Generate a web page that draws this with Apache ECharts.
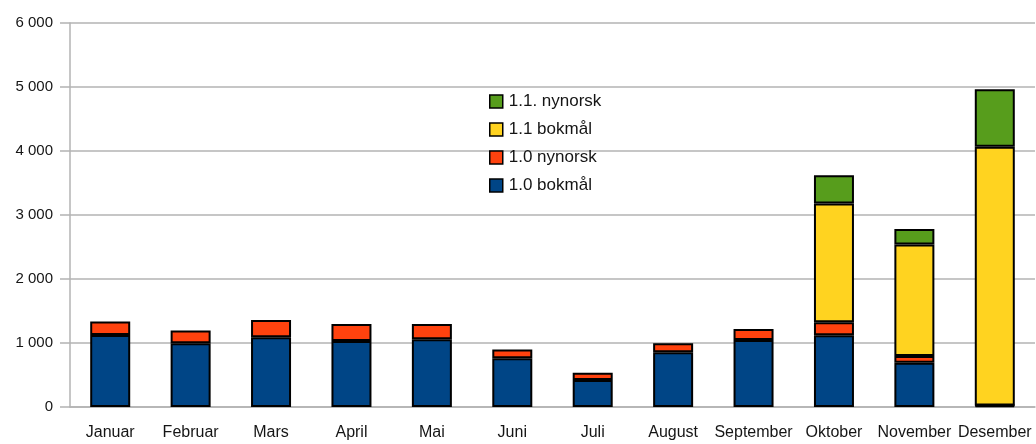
<!DOCTYPE html>
<html>
<head>
<meta charset="utf-8">
<script src="https://cdn.jsdelivr.net/npm/echarts@6/dist/echarts.min.js"></script>
<style>
	html, body { margin: 0; padding: 0; background: #fff; }
	#chart { width: 1036px; height: 444px; }
</style>
</head>
<body>
<div id="chart"></div>
<script>
	// måneder
	var months = ['Januar', 'Februar', 'Mars', 'April', 'Mai', 'Juni', 'Juli', 'August', 'September', 'Oktober', 'November', 'Desember'];
	// verdier lest av bildet
	var bokmal10 = [1125, 995, 1090, 1030, 1060, 760, 420, 855, 1045, 1120, 690, 20];
	var nynorsk10 = [210, 200, 270, 265, 235, 140, 115, 140, 175, 205, 105, 5];
	var bokmal11 = [0, 0, 0, 0, 0, 0, 0, 0, 0, 1855, 1745, 4040];
	var nynorsk11 = [0, 0, 0, 0, 0, 0, 0, 0, 0, 440, 240, 900];
	var yTicks = [0, 1000, 2000, 3000, 4000, 5000, 6000];

	var textFont = 'Liberation Sans';
	var textColor = '#151515';

	function fmt(v) {
		// tusenskille med mellomrom
		return String(v).replace(/\B(?=(\d{3})+(?!\d))/g, ' ');
	}

	function bar(name, data, color) {
		return {
			name: name,
			type: 'bar',
			stack: 'total',
			barWidth: 40,
			data: data.map(function (v) { return v === 0 ? null : v; }),
			itemStyle: { color: color, borderColor: '#000', borderWidth: 2 }
		};
	}

	var myChart = echarts.init(document.getElementById('chart'));
	myChart.setOption({
		animation: false,
		grid: { left: 70, right: 1, top: 23, bottom: 37 },
		legend: {
			orient: 'vertical',
			left: 489,
			top: 93,
			padding: 0,
			itemWidth: 13,
			itemHeight: 13,
			itemGap: 11,
			icon: 'rect',
			data: ['1.1. nynorsk', '1.1 bokmål', '1.0 nynorsk', '1.0 bokmål'],
			itemStyle: { borderColor: '#000', borderWidth: 1.5 },
			textStyle: { fontFamily: textFont, fontSize: 17, color: textColor, padding: [0, 0, 0, 1] }
		},
		xAxis: {
			type: 'category',
			data: months,
			axisLine: { lineStyle: { color: '#b3b3b3', width: 1.5 } },
			axisTick: { alignWithLabel: true, length: 10, lineStyle: { color: '#b3b3b3', width: 1.5 } },
			axisLabel: { fontFamily: textFont, fontSize: 16, color: textColor, margin: 18, interval: 0 }
		},
		yAxis: {
			type: 'value',
			min: yTicks[0],
			max: yTicks[yTicks.length - 1],
			interval: 1000,
			axisLine: { show: true, lineStyle: { color: '#b3b3b3', width: 1.5 } },
			axisTick: { show: true, length: 10, lineStyle: { color: '#b3b3b3', width: 1.5 } },
			splitLine: { lineStyle: { color: '#b3b3b3', width: 1.5 } },
			axisLabel: { fontFamily: textFont, fontSize: 15, color: textColor, margin: 17, formatter: fmt }
		},
		series: [
			bar('1.0 bokmål', bokmal10, '#004586'),
			bar('1.0 nynorsk', nynorsk10, '#ff420e'),
			bar('1.1 bokmål', bokmal11, '#ffd320'),
			bar('1.1. nynorsk', nynorsk11, '#579d1c')
		]
	});
</script>
</body>
</html>
